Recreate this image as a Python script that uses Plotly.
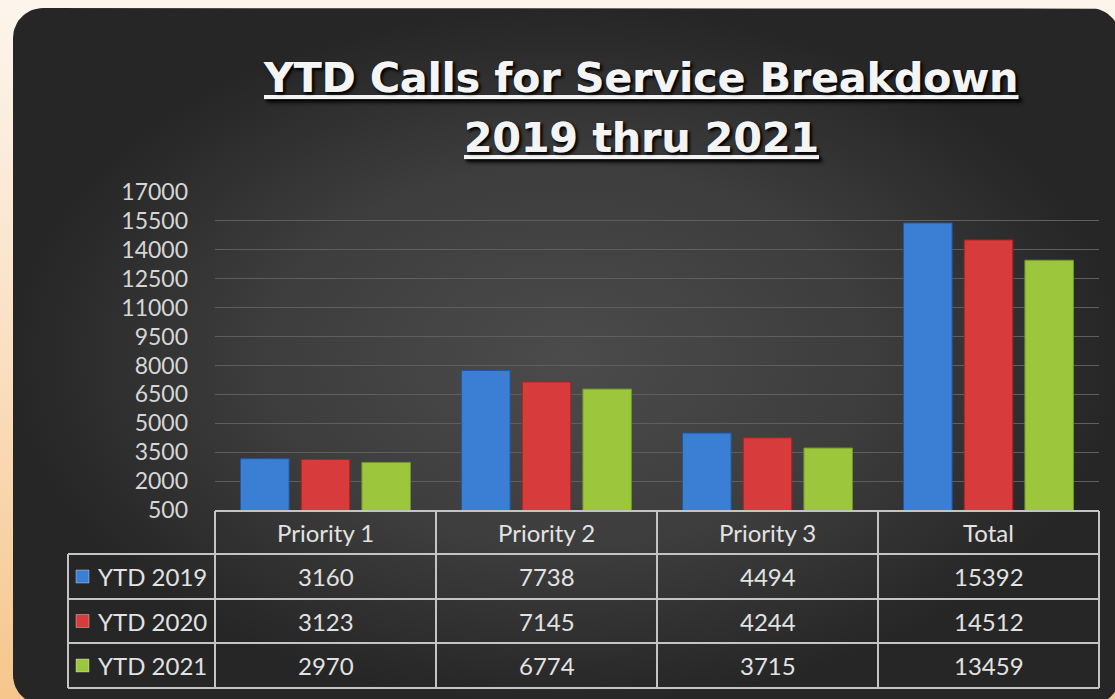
import numpy as np
import plotly.graph_objects as go

# ---------------- data ----------------
categories = ["Priority 1", "Priority 2", "Priority 3", "Total"]
series_names = ["YTD 2019", "YTD 2020", "YTD 2021"]
ytd_2019 = [3160, 7738, 4494, 15392]
ytd_2020 = [3123, 7145, 4244, 14512]
ytd_2021 = [2970, 6774, 3715, 13459]
y_ticks = [500, 2000, 3500, 5000, 6500, 8000, 9500, 11000, 12500, 14000, 15500, 17000]
title_line1 = "YTD Calls for Service Breakdown"
title_line2 = "2019 thru 2021"

series_values = [ytd_2019, ytd_2020, ytd_2021]
series_colors = ["#3b7fd4", "#d83b3b", "#9cc63c"]
series_edges = ["#1f58a6", "#a82222", "#6f9826"]

W, H = 1115, 699


def px(x):
    return x / W


def py(y):
    return 1 - y / H


fig = go.Figure()

# ---------------- background (pixel-space helper axis) ----------------
fig.add_trace(go.Scatter(
    x=[0, W, W, 0, 0], y=[0, 0, H, H, 0], mode="lines", line=dict(width=0),
    fill="toself", hoverinfo="skip", showlegend=False,
    fillgradient=dict(type="vertical", start=0, stop=H,
                      colorscale=[[0, "#fdf5ec"], [0.5, "#fae0c2"], [1, "#f6c68c"]]),
    xaxis="x", yaxis="y"))

# rounded dark panel
L, T, R, B, rad = 13, 8, 1120, 705, 30
pts = []
for cx, cy, a0, a1 in [(L + rad, T + rad, 180, 270), (R - rad, T + rad, 270, 360),
                       (R - rad, B - rad, 0, 90), (L + rad, B - rad, 90, 180)]:
    ang = np.radians(np.linspace(a0, a1, 16))
    pts += [(cx + rad * np.cos(a), cy + rad * np.sin(a)) for a in ang]
pts.append(pts[0])
fig.add_trace(go.Scatter(
    x=[p[0] for p in pts], y=[p[1] for p in pts], mode="lines", line=dict(width=0),
    fill="toself", hoverinfo="skip", showlegend=False,
    fillgradient=dict(type="radial",
                      colorscale=[[0, "#4b4b4b"], [0.55, "#3d3d3d"], [1, "#262626"]]),
    xaxis="x", yaxis="y"))

# ---------------- bars ----------------
for name, vals, col, edge in zip(series_names, series_values, series_colors, series_edges):
    fig.add_trace(go.Bar(
        x=categories, y=vals, name=name, marker=dict(color=col, line=dict(color=edge, width=1)),
        xaxis="x2", yaxis="y2", hoverinfo="skip", showlegend=False))

x_dom = [px(215), px(1099)]
y_dom = [py(510), py(192)]

fig.update_layout(
    width=W, height=H, margin=dict(l=0, r=0, t=0, b=0, pad=0, autoexpand=False),
    paper_bgcolor="#fbe6cf", plot_bgcolor="rgba(0,0,0,0)",
    barmode="group", bargap=0.176, bargroupgap=0.2,
    showlegend=False, hovermode=False,
    xaxis=dict(domain=[0, 1], range=[0, W], visible=False, fixedrange=True, automargin=False),
    yaxis=dict(domain=[0, 1], range=[H, 0], visible=False, fixedrange=True, automargin=False),
    xaxis2=dict(domain=x_dom, anchor="y2", range=[-0.5, 3.5], showticklabels=False,
                showgrid=False, zeroline=False, showline=False, ticks="", automargin=False),
    yaxis2=dict(domain=y_dom, anchor="x2", range=[y_ticks[0], y_ticks[-1]],
                tickvals=y_ticks, ticktext=[str(v) for v in y_ticks], automargin=False,
                showgrid=True, gridcolor="#5e5e5e", gridwidth=1, zeroline=False,
                showline=False, ticks="", ticklabelstandoff=26,
                tickfont=dict(family="Lato", size=23, color="#d6d6d6")),
)

# ---------------- title ----------------
title_font = dict(family="DejaVu Sans", size=41, color="#f4f4f4", weight="bold",
                  lineposition="under", shadow="2px 2px 3px rgba(0,0,0,0.75)")
fig.add_annotation(text=title_line1, x=px(641), y=py(78), xref="paper", yref="paper",
                   showarrow=False, font=title_font, xanchor="center", yanchor="middle")
fig.add_annotation(text=title_line2, x=px(641), y=py(138), xref="paper", yref="paper",
                   showarrow=False, font=title_font, xanchor="center", yanchor="middle")

# ---------------- data table ----------------
row_edges = [511, 554, 599, 643, 688]
label_left = 68
ncat = len(categories)
col_bounds = [x_dom[0] + i / ncat * (x_dom[1] - x_dom[0]) for i in range(ncat + 1)]
col_centers = [(col_bounds[i] + col_bounds[i + 1]) / 2 for i in range(ncat)]
line_style = dict(color="#c4c4c4", width=2)

# horizontal lines
fig.add_shape(type="line", xref="paper", yref="paper", x0=col_bounds[0], x1=col_bounds[-1],
              y0=py(row_edges[0]), y1=py(row_edges[0]), line=line_style)
for r in row_edges[1:]:
    fig.add_shape(type="line", xref="paper", yref="paper", x0=px(label_left), x1=col_bounds[-1],
                  y0=py(r), y1=py(r), line=line_style)
# vertical lines
for cb in col_bounds:
    fig.add_shape(type="line", xref="paper", yref="paper", x0=cb, x1=cb,
                  y0=py(row_edges[0]), y1=py(row_edges[-1]), line=line_style)
fig.add_shape(type="line", xref="paper", yref="paper", x0=px(label_left), x1=px(label_left),
              y0=py(row_edges[1]), y1=py(row_edges[-1]), line=line_style)

cell_font = dict(family="Lato", size=24, color="#e2e2e2")
# header
hc = (row_edges[0] + row_edges[1]) / 2
for c, xc in zip(categories, col_centers):
    fig.add_annotation(text=c, x=xc, y=py(hc), xref="paper", yref="paper", showarrow=False,
                       font=cell_font, xanchor="center", yanchor="middle")
# rows
for i, (name, vals, col) in enumerate(zip(series_names, series_values, series_colors)):
    rc = (row_edges[i + 1] + row_edges[i + 2]) / 2
    fig.add_annotation(text=name, x=px(152), y=py(rc), xref="paper", yref="paper",
                       showarrow=False, font=cell_font, xanchor="center", yanchor="middle")
    fig.add_shape(type="rect", xref="paper", yref="paper", x0=px(76), x1=px(89),
                  y0=py(rc - 6.5), y1=py(rc + 6.5), fillcolor=col,
                  line=dict(color="rgba(255,255,255,0.35)", width=1))
    for v, xc in zip(vals, col_centers):
        fig.add_annotation(text=str(v), x=xc, y=py(rc), xref="paper", yref="paper",
                           showarrow=False, font=cell_font, xanchor="center", yanchor="middle")

fig.write_html("out.html", config={"displayModeBar": False},
               post_script="document.body.style.margin='0';document.body.style.overflow='hidden';")
